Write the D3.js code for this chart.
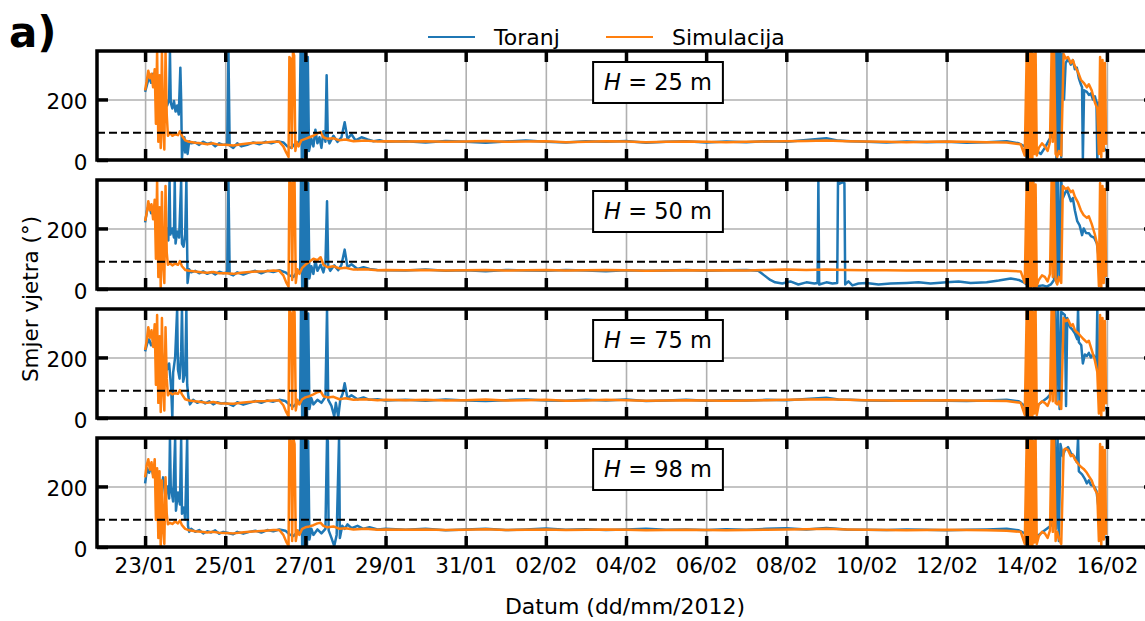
<!DOCTYPE html>
<html><head><meta charset="utf-8">
<script src="https://cdn.jsdelivr.net/npm/d3@7"></script>
<style>
body{margin:0;background:#fff}
svg{display:block}
text{font-family:"DejaVu Sans",sans-serif;fill:#000}
</style>
</head><body>
<svg id="c" width="1145" height="621"></svg>
<script>
// ---------- data ----------
const heights = [25, 50, 75, 98];
const tickDays = [0, 2, 4, 6, 8, 10, 12, 14, 16, 18, 20, 22, 24]; // days after 23/01/2012
const yTicks = [0, 200];
const refLine = 90;
const seriesNames = ["Toranj", "Simulacija"];
const seriesColors = ["#1f77b4", "#ff7f0e"];

// [day after 23/01/2012 00:00, wind direction (deg)]
const toranj25 = [[0,225],[0.05,250],[0.1,275],[0.15,255],[0.2,285],[0.25,240],[0.3,270],[0.35,230],[0.4,260],[0.45,200],[0.5,215],[0.55,180],[0.6,200],[0.62,359],[0.64,190],[0.68,170],[0.72,195],[0.76,160],[0.8,180],[0.84,150],[0.88,305],[0.9,200],[0.92,5],[0.95,60],[0.98,75],[1,25],[1.03,60],[1.06,20],[1.1,62],[1.15,55],[1.25,58],[1.35,50],[1.45,60],[1.55,53],[1.65,57],[1.75,45],[1.85,55],[1.95,50],[2.05,52],[2.08,359],[2.11,48],[2.2,40],[2.3,55],[2.4,45],[2.55,50],[2.7,58],[2.85,52],[3,60],[3.15,55],[3.3,62],[3.45,58],[3.55,45],[3.65,40],[3.75,55],[3.85,60],[3.88,359],[3.91,5],[3.94,359],[3.97,10],[4,359],[4.03,2],[4.06,340],[4.09,30],[4.15,70],[4.2,45],[4.25,100],[4.3,55],[4.35,75],[4.4,40],[4.45,95],[4.5,60],[4.53,280],[4.56,70],[4.6,55],[4.7,80],[4.8,60],[4.9,75],[4.98,125],[5.05,70],[5.15,85],[5.25,65],[5.4,75],[5.55,68],[5.7,62],[5.85,65],[6,60],
[6.5,62],[7,58],[7.5,63],[8,60],[8.5,57],[9,61],[9.5,64],[10,60],[10.5,58],[11,62],[11.5,60],[12,63],[12.5,57],[13,60],[13.5,62],[14,58],[14.5,61],[15,59],[15.5,62],[16,60],[16.5,66],[17,72],[17.3,64],[17.6,62],[18,60],[18.5,58],[19,61],[19.5,59],[20,60],[20.5,57],[21,59],[21.5,62],[21.8,55],[21.95,45],[22,10],[22.05,55],[22.15,35],[22.25,30],[22.35,20],[22.45,40],[22.55,65],[22.62,80],[22.68,100],[22.71,359],[22.74,5],[22.77,359],[22.8,20],[22.83,355],[22.86,10],[22.89,350],[22.93,200],[22.97,320],[23.03,335],[23.1,315],[23.15,330],[23.2,300],[23.25,305],[23.3,270],[23.35,250],[23.38,240],[23.4,5],[23.43,230],[23.5,225],[23.55,215],[23.6,220],[23.65,200],[23.7,210],[23.74,190],[23.76,0],[23.79,190],[23.83,170],[23.88,100],[23.93,40],[23.98,30]];

const simulacija25 = [[0,230],[0.04,260],[0.08,295],[0.12,270],[0.16,285],[0.2,240],[0.24,300],[0.27,120],[0.3,359],[0.33,60],[0.36,280],[0.39,40],[0.42,359],[0.45,100],[0.48,35],[0.51,359],[0.54,150],[0.57,80],[0.62,90],[0.68,80],[0.75,85],[0.82,82],[0.87,95],[0.92,80],[1,65],[1.1,60],[1.25,57],[1.4,55],[1.55,52],[1.7,55],[1.85,50],[2,50],[2.2,48],[2.4,52],[2.6,55],[2.8,57],[3,58],[3.2,60],[3.35,60],[3.45,45],[3.52,25],[3.58,10],[3.6,340],[3.63,335],[3.66,40],[3.69,359],[3.72,345],[3.75,30],[3.78,60],[3.83,45],[3.9,65],[4,70],[4.1,75],[4.2,80],[4.3,88],[4.38,92],[4.45,75],[4.55,70],[4.7,72],[4.85,65],[5,68],[5.2,62],[5.5,64],[5.8,61],[6,62],
[6.5,61],[7,62],[7.5,60],[8,61],[8.5,63],[9,60],[9.5,61],[10,62],[10.5,59],[11,60],[11.5,62],[12,61],[12.5,59],[13,60],[13.5,61],[14,60],[14.5,59],[15,60],[15.5,61],[16,62],[16.5,63],[17,64],[17.5,62],[18,61],[18.5,60],[19,59],[19.5,60],[20,61],[20.5,60],[21,59],[21.5,58],[21.85,52],[21.95,15],[22,359],[22.02,5],[22.04,359],[22.06,0],[22.08,355],[22.1,10],[22.12,359],[22.14,5],[22.16,350],[22.19,20],[22.22,359],[22.25,15],[22.3,40],[22.38,55],[22.45,45],[22.52,30],[22.58,60],[22.62,359],[22.65,60],[22.68,359],[22.72,20],[22.76,10],[22.8,30],[22.86,15],[22.92,350],[22.97,335],[23.03,340],[23.1,320],[23.15,330],[23.2,310],[23.28,290],[23.35,265],[23.42,255],[23.5,240],[23.55,250],[23.62,230],[23.7,190],[23.76,170],[23.8,20],[23.83,340],[23.86,10],[23.89,330],[23.92,30],[23.95,320],[23.98,50]];

const toranj50 = [[0,220],[0.05,260],[0.1,280],[0.15,250],[0.2,270],[0.25,240],[0.3,260],[0.35,230],[0.4,215],[0.45,195],[0.5,180],[0.55,200],[0.58,160],[0.61,359],[0.63,180],[0.68,200],[0.72,170],[0.74,359],[0.76,150],[0.8,190],[0.85,170],[0.9,359],[0.92,150],[0.96,140],[1,180],[1.03,359],[1.06,20],[1.1,65],[1.15,55],[1.25,60],[1.35,52],[1.45,58],[1.55,50],[1.65,56],[1.75,48],[1.85,57],[1.95,52],[2.05,55],[2.08,359],[2.11,50],[2.2,45],[2.3,55],[2.45,48],[2.6,55],[2.75,60],[2.9,52],[3.05,60],[3.2,56],[3.35,62],[3.5,55],[3.6,45],[3.7,40],[3.8,58],[3.87,62],[3.89,359],[3.92,3],[3.95,359],[3.98,8],[4.01,359],[4.04,2],[4.07,350],[4.1,35],[4.15,75],[4.2,50],[4.25,95],[4.3,60],[4.38,80],[4.45,55],[4.5,85],[4.54,290],[4.57,75],[4.62,60],[4.72,78],[4.82,62],[4.9,80],[4.98,130],[5.05,72],[5.15,82],[5.3,66],[5.45,72],[5.6,66],[5.8,63],[6,62],
[6.5,61],[7,64],[7.5,60],[8,62],[8.5,59],[9,63],[9.5,61],[10,60],[10.5,63],[11,61],[11.5,59],[12,62],[12.5,60],[13,61],[13.5,63],[14,60],[14.5,62],[15,63],[15.3,60],[15.45,45],[15.6,30],[15.72,22],[15.9,18],[16.1,25],[16.3,15],[16.5,22],[16.7,18],[16.78,20],[16.8,359],[16.82,15],[17,22],[17.15,18],[17.27,20],[17.29,355],[17.33,348],[17.4,352],[17.45,350],[17.47,15],[17.55,25],[17.65,12],[17.8,18],[18,20],[18.3,15],[18.6,18],[19,20],[19.3,22],[19.6,18],[20,22],[20.3,25],[20.6,20],[21,22],[21.3,28],[21.6,35],[21.8,30],[21.95,20],[22,15],[22.05,10],[22.09,359],[22.11,10],[22.16,359],[22.18,8],[22.3,10],[22.4,12],[22.5,8],[22.6,15],[22.68,30],[22.72,359],[22.75,20],[22.78,359],[22.82,40],[22.86,359],[22.9,300],[23,330],[23.05,310],[23.1,290],[23.15,300],[23.2,260],[23.26,224],[23.32,210],[23.38,178],[23.42,200],[23.48,185],[23.55,184],[23.6,175],[23.68,170],[23.75,150],[23.82,79],[23.88,50],[23.91,36],[23.98,45]];

const simulacija50 = [[0,225],[0.04,250],[0.08,290],[0.12,260],[0.16,280],[0.2,230],[0.24,295],[0.27,100],[0.3,359],[0.33,40],[0.36,270],[0.39,5],[0.42,320],[0.45,80],[0.48,20],[0.51,340],[0.54,120],[0.57,80],[0.62,85],[0.68,78],[0.75,84],[0.82,80],[0.87,92],[0.92,75],[1,63],[1.1,60],[1.25,58],[1.4,55],[1.55,54],[1.7,56],[1.85,52],[2,52],[2.2,50],[2.4,54],[2.6,56],[2.8,58],[3,59],[3.2,61],[3.35,60],[3.45,45],[3.52,22],[3.58,8],[3.6,359],[3.64,350],[3.67,30],[3.7,359],[3.73,355],[3.76,20],[3.8,65],[3.85,50],[3.92,70],[4,80],[4.1,90],[4.2,100],[4.3,95],[4.38,105],[4.45,80],[4.55,72],[4.7,75],[4.85,68],[5,70],[5.2,64],[5.5,65],[5.8,62],[6,63],
[6.5,62],[7,63],[7.5,61],[8,62],[8.5,63],[9,61],[9.5,62],[10,63],[10.5,61],[11,62],[11.5,63],[12,62],[12.5,60],[13,61],[13.5,62],[14,61],[14.5,62],[15,61],[15.5,63],[16,64],[16.5,63],[17,64],[17.5,63],[18,62],[18.5,62],[19,61],[19.5,62],[20,61],[20.5,62],[21,61],[21.5,60],[21.85,58],[21.95,20],[22,359],[22.02,0],[22.04,355],[22.06,5],[22.08,359],[22.1,0],[22.12,350],[22.14,10],[22.16,359],[22.19,5],[22.22,345],[22.25,10],[22.3,30],[22.38,45],[22.45,40],[22.52,25],[22.58,50],[22.62,359],[22.65,40],[22.68,359],[22.72,30],[22.76,15],[22.8,40],[22.86,20],[22.9,340],[22.97,330],[23.03,335],[23.1,320],[23.15,325],[23.2,305],[23.28,285],[23.35,260],[23.42,244],[23.5,235],[23.55,240],[23.62,215],[23.7,180],[23.76,145],[23.8,10],[23.83,350],[23.86,5],[23.89,340],[23.92,20],[23.95,330],[23.98,40]];

const toranj75 = [[0,220],[0.05,245],[0.1,260],[0.15,240],[0.2,250],[0.25,230],[0.3,240],[0.35,210],[0.4,230],[0.45,190],[0.5,200],[0.55,160],[0.6,180],[0.65,100],[0.68,0],[0.7,150],[0.75,200],[0.8,359],[0.82,160],[0.86,130],[0.9,220],[0.92,359],[0.95,120],[1,150],[1.03,359],[1.05,110],[1.08,70],[1.12,45],[1.2,60],[1.3,50],[1.4,56],[1.5,48],[1.6,55],[1.7,45],[1.8,52],[1.9,48],[2,50],[2.1,46],[2.2,40],[2.3,52],[2.45,44],[2.6,50],[2.75,56],[2.9,50],[3.05,58],[3.2,54],[3.35,60],[3.5,56],[3.6,44],[3.7,38],[3.8,52],[3.87,58],[3.89,359],[3.92,2],[3.95,359],[3.98,5],[4.01,359],[4.04,0],[4.07,345],[4.1,30],[4.15,65],[4.2,45],[4.3,60],[4.4,50],[4.5,70],[4.54,359],[4.57,60],[4.65,40],[4.72,5],[4.76,50],[4.82,3],[4.87,60],[4.93,80],[4.98,115],[5.05,65],[5.15,75],[5.3,62],[5.45,68],[5.6,60],[5.8,62],[6,58],
[6.5,60],[7,57],[7.5,61],[8,58],[8.5,56],[9,59],[9.5,61],[10,58],[10.5,57],[11,60],[11.5,58],[12,61],[12.5,56],[13,58],[13.5,60],[14,57],[14.5,59],[15,58],[15.5,60],[16,59],[16.5,63],[17,67],[17.3,61],[17.6,60],[18,58],[18.5,57],[19,59],[19.5,58],[20,57],[20.5,56],[21,58],[21.5,60],[21.8,55],[21.95,40],[22,15],[22.05,35],[22.1,40],[22.2,35],[22.3,45],[22.4,55],[22.5,65],[22.6,80],[22.66,90],[22.71,359],[22.74,50],[22.78,359],[22.82,30],[22.86,350],[22.95,340],[22.98,40],[23.01,330],[23.08,300],[23.15,290],[23.2,280],[23.26,260],[23.28,359],[23.3,250],[23.36,240],[23.4,180],[23.45,210],[23.5,205],[23.55,215],[23.6,200],[23.65,210],[23.7,200],[23.74,180],[23.76,359],[23.78,150],[23.85,100],[23.9,40],[23.98,30]];

const simulacija75 = [[0,225],[0.04,255],[0.08,300],[0.12,265],[0.16,290],[0.2,235],[0.24,310],[0.27,110],[0.3,340],[0.33,50],[0.36,270],[0.39,20],[0.42,330],[0.45,90],[0.48,25],[0.51,300],[0.54,130],[0.57,75],[0.62,85],[0.68,78],[0.75,82],[0.82,80],[0.87,92],[0.92,78],[1,62],[1.1,58],[1.25,55],[1.4,53],[1.55,50],[1.7,53],[1.85,49],[2,48],[2.2,47],[2.4,50],[2.6,53],[2.8,55],[3,56],[3.2,58],[3.35,58],[3.45,42],[3.52,20],[3.58,5],[3.6,359],[3.64,345],[3.67,30],[3.7,359],[3.73,350],[3.76,25],[3.8,60],[3.85,45],[3.92,62],[4,68],[4.1,72],[4.2,78],[4.3,85],[4.38,88],[4.45,72],[4.55,68],[4.7,70],[4.85,62],[5,65],[5.2,60],[5.5,62],[5.8,59],[6,60],
[6.5,59],[7,60],[7.5,58],[8,59],[8.5,61],[9,58],[9.5,59],[10,60],[10.5,57],[11,58],[11.5,60],[12,59],[12.5,57],[13,58],[13.5,59],[14,58],[14.5,57],[15,58],[15.5,59],[16,60],[16.5,61],[17,62],[17.5,60],[18,59],[18.5,58],[19,57],[19.5,58],[20,59],[20.5,58],[21,57],[21.5,56],[21.85,50],[21.95,10],[22,359],[22.02,5],[22.04,359],[22.06,0],[22.08,355],[22.1,8],[22.12,359],[22.14,3],[22.16,350],[22.19,15],[22.22,355],[22.25,10],[22.3,45],[22.38,55],[22.45,50],[22.52,40],[22.58,60],[22.62,359],[22.65,55],[22.68,359],[22.72,50],[22.76,45],[22.8,55],[22.86,30],[22.92,330],[22.97,320],[23.03,325],[23.1,305],[23.15,310],[23.2,290],[23.28,280],[23.35,270],[23.42,260],[23.5,250],[23.55,255],[23.62,225],[23.7,190],[23.76,152],[23.8,15],[23.83,340],[23.86,5],[23.89,330],[23.92,25],[23.95,320],[23.98,45]];

const toranj98 = [[0,210],[0.05,260],[0.1,245],[0.15,265],[0.2,240],[0.25,230],[0.3,250],[0.35,210],[0.4,190],[0.45,230],[0.5,175],[0.55,200],[0.6,160],[0.62,359],[0.64,200],[0.7,150],[0.75,359],[0.77,120],[0.82,180],[0.87,140],[0.9,359],[0.92,110],[0.97,130],[1,90],[1.05,359],[1.07,70],[1.1,50],[1.15,60],[1.25,50],[1.35,56],[1.45,45],[1.55,52],[1.65,48],[1.75,55],[1.85,44],[1.95,50],[2.05,47],[2.2,42],[2.3,50],[2.45,44],[2.6,50],[2.75,54],[2.9,48],[3.05,56],[3.2,52],[3.35,58],[3.5,54],[3.6,42],[3.7,36],[3.8,50],[3.87,56],[3.89,359],[3.92,2],[3.95,359],[3.98,6],[4.01,359],[4.04,0],[4.07,350],[4.1,25],[4.15,60],[4.2,40],[4.3,58],[4.4,45],[4.5,60],[4.54,359],[4.56,350],[4.58,55],[4.65,30],[4.72,3],[4.78,40],[4.84,359],[4.86,30],[4.92,70],[4.98,60],[5.05,75],[5.15,62],[5.3,70],[5.45,60],[5.6,65],[5.8,58],[6,60],
[6.5,57],[7,60],[7.5,55],[8,58],[8.5,60],[9,56],[9.5,58],[10,61],[10.5,57],[11,59],[11.5,56],[12,58],[12.5,60],[13,57],[13.5,58],[14,56],[14.5,59],[15,57],[15.5,60],[16,62],[16.5,58],[17,63],[17.5,58],[18,57],[18.5,56],[19,58],[19.5,57],[20,55],[20.5,57],[21,58],[21.5,60],[21.8,55],[21.95,45],[22,10],[22.05,40],[22.1,30],[22.2,35],[22.3,40],[22.4,50],[22.5,60],[22.6,70],[22.66,80],[22.7,359],[22.73,60],[22.77,359],[22.8,20],[22.84,340],[22.9,300],[22.95,320],[23.03,330],[23.1,310],[23.18,300],[23.25,280],[23.28,359],[23.3,250],[23.38,240],[23.45,225],[23.5,210],[23.55,220],[23.6,205],[23.68,200],[23.74,185],[23.8,120],[23.86,60],[23.92,30],[23.98,35]];

const simulacija98 = [[0,230],[0.04,270],[0.08,290],[0.12,255],[0.16,280],[0.2,230],[0.24,290],[0.27,90],[0.3,260],[0.33,30],[0.36,250],[0.39,0],[0.42,220],[0.45,60],[0.48,10],[0.51,230],[0.54,110],[0.57,75],[0.62,80],[0.68,76],[0.75,84],[0.82,78],[0.87,88],[0.92,72],[1,60],[1.1,55],[1.25,52],[1.4,50],[1.55,48],[1.7,50],[1.85,47],[2,46],[2.2,45],[2.4,48],[2.6,50],[2.8,52],[3,54],[3.2,56],[3.35,56],[3.45,40],[3.52,18],[3.58,4],[3.6,359],[3.64,350],[3.67,20],[3.7,359],[3.73,340],[3.76,20],[3.8,55],[3.85,40],[3.92,60],[4,65],[4.1,68],[4.2,72],[4.3,78],[4.38,80],[4.45,70],[4.55,65],[4.7,68],[4.85,60],[5,62],[5.2,58],[5.5,60],[5.8,57],[6,58],
[6.5,57],[7,58],[7.5,56],[8,57],[8.5,59],[9,56],[9.5,57],[10,58],[10.5,56],[11,57],[11.5,58],[12,57],[12.5,55],[13,56],[13.5,57],[14,56],[14.5,55],[15,56],[15.5,57],[16,58],[16.5,59],[17,60],[17.5,58],[18,57],[18.5,56],[19,55],[19.5,56],[20,57],[20.5,56],[21,55],[21.5,54],[21.85,50],[21.95,10],[22,359],[22.02,5],[22.04,359],[22.06,0],[22.08,355],[22.1,8],[22.12,359],[22.14,3],[22.16,350],[22.19,15],[22.22,355],[22.25,10],[22.3,35],[22.38,50],[22.45,45],[22.52,30],[22.58,55],[22.62,359],[22.65,50],[22.68,359],[22.72,20],[22.76,50],[22.8,30],[22.86,10],[22.92,320],[22.97,325],[23.03,320],[23.1,300],[23.15,305],[23.2,290],[23.28,275],[23.35,265],[23.42,258],[23.5,245],[23.55,234],[23.62,220],[23.7,190],[23.76,175],[23.8,20],[23.83,340],[23.86,5],[23.89,330],[23.92,25],[23.95,320],[23.98,40]];

const panelSeries = [
  [toranj25, simulacija25],
  [toranj50, simulacija50],
  [toranj75, simulacija75],
  [toranj98, simulacija98]
];

// ---------- layout ----------
const svg = d3.select("#c");
const left = 97, right = 1155;
const panelTop0 = 51, panelStep = 129, panelH = 109;
const FS = 21.5;
const DAY = 86400000;
const t0 = new Date(2012, 0, 23).getTime();
const toDate = d => new Date(t0 + d * DAY);

const x = d3.scaleTime()
  .domain([toDate(-1.2), toDate(25.2)])
  .range([left, right]);
const tickDates = tickDays.map(toDate);
const fmt = d3.timeFormat("%d/%m");

const defs = svg.append("defs");

heights.forEach((h, i) => {
  const top = panelTop0 + i * panelStep;
  const bottom = top + panelH;
  const y = d3.scaleLinear().domain([0, 360]).range([bottom, top]);
  const g = svg.append("g");

  const clipId = "clip" + i;
  defs.append("clipPath").attr("id", clipId)
    .append("rect").attr("x", left).attr("y", top).attr("width", right - left).attr("height", panelH);

  // grid
  const gx = g.append("g").attr("transform", `translate(0,${bottom})`)
    .call(d3.axisBottom(x).tickValues(tickDates).tickSize(-panelH).tickFormat(""));
  gx.select(".domain").remove();
  gx.selectAll("line").attr("stroke", "#b0b0b0").attr("stroke-width", 1.6);
  const gy = g.append("g").attr("transform", `translate(${left},0)`)
    .call(d3.axisLeft(y).tickValues(yTicks).tickSize(-(right - left)).tickFormat(""));
  gy.select(".domain").remove();
  gy.selectAll("line").attr("stroke", "#b0b0b0").attr("stroke-width", 1.6);

  // lines
  const line = d3.line().x(d => x(toDate(d[0]))).y(d => y(d[1]));
  const lg = g.append("g").attr("clip-path", `url(#${clipId})`);
  panelSeries[i].forEach((data, k) => {
    lg.append("path").datum(data)
      .attr("d", line)
      .attr("fill", "none")
      .attr("stroke", seriesColors[k])
      .attr("stroke-width", 2.5)
      .attr("stroke-linejoin", "round");
  });

  // reference dashed line
  lg.append("line")
    .attr("x1", left).attr("x2", right)
    .attr("y1", y(refLine)).attr("y2", y(refLine))
    .attr("stroke", "#000").attr("stroke-width", 2)
    .attr("stroke-dasharray", "8,4");

  // ticks (inward, all four sides)
  const axB = g.append("g").attr("transform", `translate(0,${bottom})`)
    .call(d3.axisBottom(x).tickValues(tickDates).tickSize(-11).tickPadding(10.5)
      .tickFormat(i === heights.length - 1 ? fmt : ""));
  const axT = g.append("g").attr("transform", `translate(0,${top})`)
    .call(d3.axisTop(x).tickValues(tickDates).tickSize(-11).tickFormat(""));
  const axL = g.append("g").attr("transform", `translate(${left},0)`)
    .call(d3.axisLeft(y).tickValues(yTicks).tickSize(-11).tickPadding(9.5));
  const axR = g.append("g").attr("transform", `translate(${right},0)`)
    .call(d3.axisRight(y).tickValues(yTicks).tickSize(-11).tickFormat(""));
  [axB, axT, axL, axR].forEach(a => {
    a.select(".domain").remove();
    a.selectAll("line").attr("stroke", "#000").attr("stroke-width", 3.5);
    a.selectAll("text").attr("font-family", "DejaVu Sans").attr("font-size", FS).attr("fill", "#000");
  });
  axL.selectAll("text").attr("dy", "0.42em");

  // frame
  g.append("rect")
    .attr("x", left).attr("y", top).attr("width", right - left).attr("height", panelH)
    .attr("fill", "none").attr("stroke", "#000").attr("stroke-width", 3.5);

  // H label box
  const boxRect = g.append("rect");
  const lab = g.append("text")
    .attr("x", 658).attr("y", top + 39)
    .attr("text-anchor", "middle")
    .attr("font-size", 22.5);
  lab.append("tspan").attr("font-style", "italic").text("H");
  lab.append("tspan").text(` = ${h} m`);
  const bb = lab.node().getBBox();
  boxRect
    .attr("x", bb.x - 11).attr("y", top + 11)
    .attr("width", bb.width + 22).attr("height", 41)
    .attr("fill", "#fff").attr("stroke", "#000").attr("stroke-width", 2);
});

// y axis label
svg.append("text")
  .attr("transform", `translate(38,${(panelTop0 + panelTop0 + 3 * panelStep + panelH) / 2}) rotate(-90)`)
  .attr("text-anchor", "middle")
  .attr("font-size", FS)
  .text("Smjer vjetra (°)");

// x axis label
svg.append("text")
  .attr("x", 625).attr("y", 614)
  .attr("text-anchor", "middle")
  .attr("font-size", 22)
  .text("Datum (dd/mm/2012)");

// panel tag
svg.append("text")
  .attr("x", 9).attr("y", 47)
  .attr("font-size", 42).attr("font-weight", "bold")
  .text("a)");

// legend
const legend = svg.append("g");
const legX = [428, 606];
seriesNames.forEach((n, k) => {
  legend.append("line")
    .attr("x1", legX[k]).attr("x2", legX[k] + 47)
    .attr("y1", 37).attr("y2", 37)
    .attr("stroke", seriesColors[k]).attr("stroke-width", 2.2);
  legend.append("text")
    .attr("x", legX[k] + 66).attr("y", 45)
    .attr("font-size", 22)
    .text(n);
});
</script>
</body></html>
